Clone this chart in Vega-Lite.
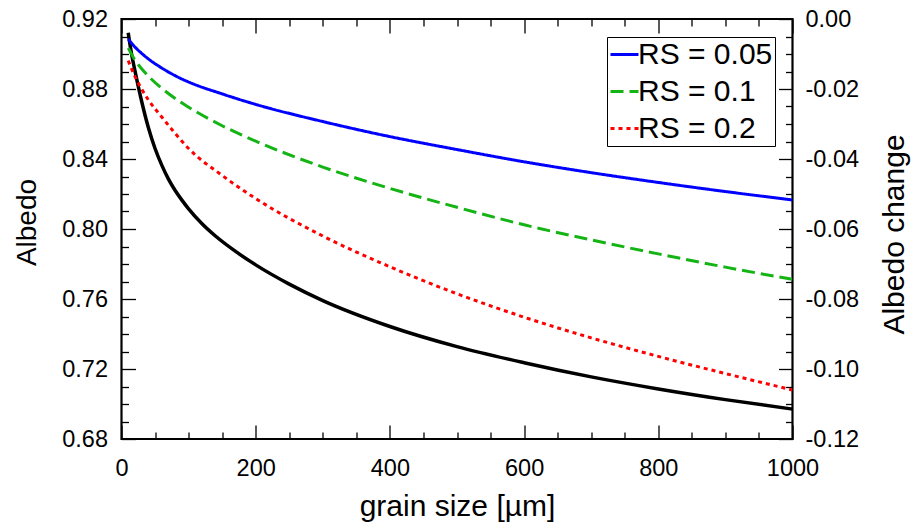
{
  "$schema": "https://vega.github.io/schema/vega-lite/v6.json",
  "width": 671,
  "height": 420,
  "autosize": {"type": "none"},
  "padding": {"left": 121.5, "top": 19, "right": 121.5, "bottom": 84},
  "background": "white",
  "config": {
    "font": "Liberation Sans",
    "view": {"stroke": "black", "strokeWidth": 2.2},
    "axis": {
      "domain": false,
      "grid": false,
      "tickColor": "black",
      "tickWidth": 1.3,
      "labelColor": "black",
      "labelFontSize": 23.5,
      "titleColor": "black",
      "titleFontWeight": "normal"
    },
    "legend": {
      "orient": "none",
      "legendX": 485.5,
      "legendY": 18,
      "strokeColor": "black",
      "padding": 2,
      "labelFontSize": 30,
      "labelColor": "black",
      "labelOffset": -2,
      "symbolType": "stroke",
      "symbolSize": 784,
      "symbolStrokeWidth": 3,
      "rowPadding": 6
    }
  },
  "datasets": {
    "black": [
      {"x": 10, "y": 0.9122},
      {"x": 15, "y": 0.9000},
      {"x": 20, "y": 0.8905},
      {"x": 30, "y": 0.8730},
      {"x": 40, "y": 0.8580},
      {"x": 50, "y": 0.8460},
      {"x": 60, "y": 0.8365},
      {"x": 70, "y": 0.8285},
      {"x": 80, "y": 0.8220},
      {"x": 90, "y": 0.8165},
      {"x": 100, "y": 0.8115},
      {"x": 120, "y": 0.8030},
      {"x": 140, "y": 0.7960},
      {"x": 170, "y": 0.7872},
      {"x": 200, "y": 0.7795},
      {"x": 250, "y": 0.7685},
      {"x": 300, "y": 0.7591},
      {"x": 400, "y": 0.7443},
      {"x": 500, "y": 0.7328},
      {"x": 600, "y": 0.7236},
      {"x": 700, "y": 0.7155},
      {"x": 800, "y": 0.7086},
      {"x": 900, "y": 0.7025},
      {"x": 1000, "y": 0.6971}
    ],
    "rs": [
      {"x": 10, "change": -0.0057, "rs": "RS = 0.05"},
      {"x": 20, "change": -0.0080, "rs": "RS = 0.05"},
      {"x": 30, "change": -0.0098, "rs": "RS = 0.05"},
      {"x": 40, "change": -0.0114, "rs": "RS = 0.05"},
      {"x": 60, "change": -0.0140, "rs": "RS = 0.05"},
      {"x": 80, "change": -0.0162, "rs": "RS = 0.05"},
      {"x": 100, "change": -0.0180, "rs": "RS = 0.05"},
      {"x": 150, "change": -0.0214, "rs": "RS = 0.05"},
      {"x": 200, "change": -0.0244, "rs": "RS = 0.05"},
      {"x": 300, "change": -0.0293, "rs": "RS = 0.05"},
      {"x": 400, "change": -0.0336, "rs": "RS = 0.05"},
      {"x": 500, "change": -0.0373, "rs": "RS = 0.05"},
      {"x": 600, "change": -0.0408, "rs": "RS = 0.05"},
      {"x": 700, "change": -0.0439, "rs": "RS = 0.05"},
      {"x": 800, "change": -0.0467, "rs": "RS = 0.05"},
      {"x": 900, "change": -0.0493, "rs": "RS = 0.05"},
      {"x": 1000, "change": -0.0517, "rs": "RS = 0.05"},
      {"x": 10, "change": -0.0083, "rs": "RS = 0.1"},
      {"x": 20, "change": -0.0117, "rs": "RS = 0.1"},
      {"x": 30, "change": -0.0142, "rs": "RS = 0.1"},
      {"x": 40, "change": -0.0163, "rs": "RS = 0.1"},
      {"x": 60, "change": -0.0198, "rs": "RS = 0.1"},
      {"x": 80, "change": -0.0227, "rs": "RS = 0.1"},
      {"x": 100, "change": -0.0252, "rs": "RS = 0.1"},
      {"x": 150, "change": -0.0305, "rs": "RS = 0.1"},
      {"x": 200, "change": -0.0349, "rs": "RS = 0.1"},
      {"x": 300, "change": -0.0423, "rs": "RS = 0.1"},
      {"x": 400, "change": -0.0484, "rs": "RS = 0.1"},
      {"x": 500, "change": -0.0538, "rs": "RS = 0.1"},
      {"x": 600, "change": -0.0588, "rs": "RS = 0.1"},
      {"x": 700, "change": -0.0631, "rs": "RS = 0.1"},
      {"x": 800, "change": -0.0671, "rs": "RS = 0.1"},
      {"x": 900, "change": -0.0709, "rs": "RS = 0.1"},
      {"x": 1000, "change": -0.0744, "rs": "RS = 0.1"},
      {"x": 10, "change": -0.0119, "rs": "RS = 0.2"},
      {"x": 20, "change": -0.0164, "rs": "RS = 0.2"},
      {"x": 30, "change": -0.0200, "rs": "RS = 0.2"},
      {"x": 40, "change": -0.0231, "rs": "RS = 0.2"},
      {"x": 60, "change": -0.0280, "rs": "RS = 0.2"},
      {"x": 80, "change": -0.0327, "rs": "RS = 0.2"},
      {"x": 100, "change": -0.0370, "rs": "RS = 0.2"},
      {"x": 150, "change": -0.0447, "rs": "RS = 0.2"},
      {"x": 200, "change": -0.0513, "rs": "RS = 0.2"},
      {"x": 300, "change": -0.0620, "rs": "RS = 0.2"},
      {"x": 400, "change": -0.0708, "rs": "RS = 0.2"},
      {"x": 500, "change": -0.0785, "rs": "RS = 0.2"},
      {"x": 600, "change": -0.0852, "rs": "RS = 0.2"},
      {"x": 700, "change": -0.0911, "rs": "RS = 0.2"},
      {"x": 800, "change": -0.0964, "rs": "RS = 0.2"},
      {"x": 900, "change": -0.1013, "rs": "RS = 0.2"},
      {"x": 1000, "change": -0.1060, "rs": "RS = 0.2"}
    ]
  },
  "layer": [
    {
      "data": {"name": "black"},
      "mark": {"type": "line", "color": "black", "strokeWidth": 3.5, "interpolate": "monotone", "clip": true},
      "encoding": {
        "x": {
          "field": "x", "type": "quantitative",
          "scale": {"domain": [0, 1000], "nice": false, "zero": false},
          "axis": {
            "orient": "bottom",
            "values": [0,50,100,150,200,250,300,350,400,450,500,550,600,650,700,750,800,850,900,950,1000],
            "labelExpr": "datum.value % 200 === 0 ? format(datum.value, 'd') : ''",
            "tickSize": {"condition": {"test": "datum.value % 200 === 0", "value": -14}, "value": -7},
            "labelPadding": 31,
            "labelFlush": false,
            "labelOverlap": false,
            "title": "grain size [µm]",
            "titleFontSize": 30,
            "titleBaseline": "alphabetic",
            "titleY": 76
          }
        },
        "y": {
          "field": "y", "type": "quantitative",
          "scale": {"domain": [0.68, 0.92], "nice": false, "zero": false},
          "axis": {
            "orient": "left",
            "values": [0.68,0.69,0.70,0.71,0.72,0.73,0.74,0.75,0.76,0.77,0.78,0.79,0.80,0.81,0.82,0.83,0.84,0.85,0.86,0.87,0.88,0.89,0.90,0.91,0.92],
            "labelExpr": "round(datum.value * 100) % 4 === 0 ? format(datum.value, '.2f') : ''",
            "tickSize": {"condition": {"test": "round(datum.value * 100) % 4 === 0", "value": -14}, "value": -7},
            "labelPadding": 28,
            "labelFlush": false,
            "labelOverlap": false,
            "title": "Albedo",
            "titleFontSize": 28,
            "titleAngle": -90,
            "titleAlign": "center",
            "titleBaseline": "alphabetic",
            "titleX": -86.5,
            "titleY": 203
          }
        }
      }
    },
    {
      "data": {"name": "rs"},
      "mark": {"type": "line", "strokeWidth": 3, "interpolate": "monotone", "clip": true},
      "encoding": {
        "x": {
          "field": "x", "type": "quantitative",
          "scale": {"domain": [0, 1000], "nice": false, "zero": false},
          "axis": {
            "orient": "top",
            "values": [0,50,100,150,200,250,300,350,400,450,500,550,600,650,700,750,800,850,900,950,1000],
            "labels": false,
            "tickSize": {"condition": {"test": "datum.value % 200 === 0", "value": -14}, "value": -7},
            "title": null
          }
        },
        "y": {
          "field": "change", "type": "quantitative",
          "scale": {"domain": [-0.12, 0], "nice": false, "zero": false},
          "axis": {
            "orient": "right",
            "values": [-0.12,-0.115,-0.11,-0.105,-0.1,-0.095,-0.09,-0.085,-0.08,-0.075,-0.07,-0.065,-0.06,-0.055,-0.05,-0.045,-0.04,-0.035,-0.03,-0.025,-0.02,-0.015,-0.01,-0.005,0],
            "labelExpr": "abs(round(datum.value * 1000)) % 20 === 0 ? (datum.value < 0 ? '-' + format(-datum.value, '.2f') : '0.00') : ''",
            "tickSize": {"condition": {"test": "abs(round(datum.value * 1000)) % 20 === 0", "value": -14}, "value": -7},
            "labelPadding": 26.5,
            "labelFlush": false,
            "labelOverlap": false,
            "title": "Albedo change",
            "titleFontSize": 30,
            "titleAngle": -90,
            "titleAlign": "center",
            "titleBaseline": "alphabetic",
            "titleX": 110.5,
            "titleY": 215
          }
        },
        "color": {
          "field": "rs", "type": "nominal",
          "scale": {"domain": ["RS = 0.05", "RS = 0.1", "RS = 0.2"], "range": ["#0000ff", "#14b414", "#ff0000"]},
          "legend": {"title": null}
        },
        "strokeDash": {
          "field": "rs", "type": "nominal",
          "scale": {"domain": ["RS = 0.05", "RS = 0.1", "RS = 0.2"], "range": [[1, 0], [13, 6], [4, 4]]},
          "legend": {"title": null}
        }
      }
    }
  ],
  "resolve": {"scale": {"x": "independent", "y": "independent"}, "axis": {"x": "independent", "y": "independent"}}
}
